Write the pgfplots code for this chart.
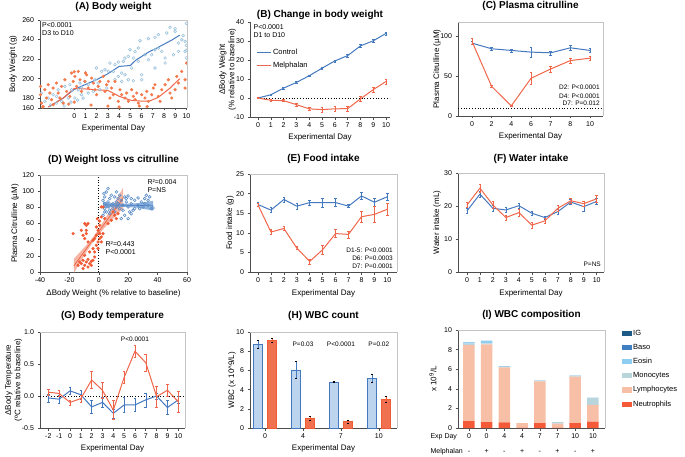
\documentclass[border=0pt]{standalone}
\usepackage{fontspec}
\setmainfont{Liberation Sans}
\usepackage{pgfplots}
\pgfplotsset{compat=1.18}

\definecolor{cblue}{HTML}{4479C0}
\definecolor{corange}{HTML}{F0664A}
\definecolor{sblue}{HTML}{9DC3DC}
\definecolor{sorange}{HTML}{F47B4E}
\definecolor{dblue}{HTML}{5A8DC8}
\definecolor{dorange}{HTML}{EF5B35}
\definecolor{bandor}{HTML}{F39680}
\definecolor{bandbl}{HTML}{5F93CF}
\definecolor{hbarblue}{HTML}{BCD4EE}
\definecolor{hbarorange}{HTML}{F07150}
\definecolor{cIG}{HTML}{1E5A86}
\definecolor{cBaso}{HTML}{3F7FC2}
\definecolor{cEosin}{HTML}{8FCDF1}
\definecolor{cMono}{HTML}{B9D5DC}
\definecolor{cLymph}{HTML}{F6BFA6}
\definecolor{cNeut}{HTML}{F45A37}
\definecolor{axgray}{HTML}{4D4D4D}
\definecolor{frgray}{HTML}{C4C4C4}

\tikzset{annot/.style={font=\fontsize{6.5}{8}\selectfont}}
\pgfplotsset{
  prism/.style={
    scale only axis, anchor=south west,
    axis x line*=bottom, axis y line*=left,
    axis line style={-, draw=axgray, line width=0.6pt},
    tick align=outside, major tick length=2.5pt,
    tick style={draw=axgray, line width=0.6pt},
    tick label style={font=\fontsize{7}{8}\selectfont},
    label style={font=\fontsize{8}{9.5}\selectfont},
    title style={font=\bfseries\fontsize{10}{12}\selectfont, anchor=center, yshift=-6pt},
    xlabel style={anchor=center},
    ylabel style={anchor=center, align=center},
    /pgf/number format/assume math mode=true,
  },
  framed/.style={prism,
    after end axis/.code={\draw[frgray, line width=0.6pt] (rel axis cs:0,1) -- (rel axis cs:1,1) -- (rel axis cs:1,0);}},
  errb/.style={/pgfplots/error bars/y dir=both, /pgfplots/error bars/y explicit,
    /pgfplots/error bars/error bar style={line width=0.5pt},
    /pgfplots/error bars/error mark options={rotate=90, mark size=1.3pt, line width=0.5pt}},
  ln/.style={line width=1pt, mark=none},
}

\begin{document}
\begin{tikzpicture}
\useasboundingbox (0pt,0pt) rectangle (685pt,456pt);

% (A) body weight
\begin{axis}[framed, at={(40pt,348pt)}, width=147pt, height=88pt,
  xmin=-3.05, xmax=10.05, ymin=170, ymax=260,
  xtick={0,...,10}, ytick={170,180,200,220,240,260}, yticklabels={160,180,200,220,240,260},
  title={(A) Body weight}, xlabel={Experimental Day}, ylabel={Body Weight (g)},
  title style={at={(axis description cs:0.5,1.148)}},
  xlabel style={at={(axis description cs:0.5,-0.227)}},
  ylabel style={at={(axis description cs:-0.184,0.5)}}]
\addplot[only marks, mark=o, mark size=1.4pt, sblue, mark options={line width=0.6pt}] coordinates {
(8.54,252.5)(8.99,251.1)(8.99,248.4)(8.24,246.7)(7.5,245)(7.2,242.2)(6.61,240.9)(5.86,238.8)
(5.71,231.3)(5.42,227.9)(4.97,229.6)(4.82,222.8)(5.27,221.1)(5.71,217.7)(4.38,217.7)(3.93,217)
(3.18,216)(3.04,207.4)(3.48,207.4)(4.23,205.7)(4.52,204)(3.93,202.3)(3.63,198.9)(4.82,198.9)
(5.27,197.9)(6.01,204)(6.01,198.9)(6.61,219.4)(6.9,224.5)(7.2,210.9)(8.1,221.1)(8.1,216)
(9.29,236.4)(9.58,239.8)(9.88,238.1)(9.88,227.9)(10,221.1)(9.29,227.9)(8.84,224.5)(7.8,227.9)
(7.5,231.3)(7.2,229.6)(6.31,224.5)(4.52,221.1)(2.74,209.1)(2.44,207.4)(1.99,210.9)(1.85,198.9)
(2.14,195.5)(1.25,193.8)(0.65,190.4)(0.36,188.7)(-0.24,188.7)(-0.39,193.8)(-0.83,192.1)(-1.43,188.7)
(-1.58,181.9)(-1.88,183.6)(-2.32,180.2)(-2.62,176.8)(-2.92,185.3)(-1.13,176.8)(-0.54,180.2)(0.06,180.2)
(0.65,183.6)(1.25,185.3)(1.7,187)(2.29,188.7)(2.89,190.4)(0.95,197.2)(0.51,195.5)(4.23,197.2)
(5.12,210.9)(3.63,214.3)(-2.1,173)(-1.6,175)(-0.9,172)(-0.3,176)(0.3,178)(0.8,180)
(10,256.5)(9.7,244)(10,234)(10,229)};
\addplot[only marks, mark=*, mark size=1.4pt, sorange, mark options={draw=sorange}] coordinates {
(-3,192.1)(-3,183.6)(-2.92,175)(-2.77,171.6)(-2.62,188.7)(-2.47,180.2)(-2.32,193.8)(-2.17,185.3)
(-2.02,178.5)(-1.88,190.4)(-1.88,173.3)(-1.58,195.5)(-1.43,185.3)(-1.28,180.2)(-1.13,192.1)(-0.98,175)
(-0.83,198.9)(-0.68,187)(-0.39,181.9)(-0.24,205.7)(-0.09,197.2)(0.06,202.3)(0.21,192.1)(0.36,207.4)
(0.51,198.9)(0.65,187)(0.95,197.2)(1.1,204)(1.25,190.4)(1.55,200.6)(1.7,195.5)(1.85,188.7)
(1.99,183.6)(2.14,192.1)(2.29,197.2)(2.59,202.3)(2.74,187)(2.89,193.8)(3.04,197.2)(3.18,180.2)
(3.33,190.4)(3.48,183.6)(3.63,197.2)(3.93,176.8)(4.08,188.7)(4.23,183.6)(4.52,180.2)(4.67,185.3)
(4.82,176.8)(5.12,188.7)(5.27,181.9)(5.42,178.5)(5.57,185.3)(5.71,175)(6.01,183.6)(6.31,180.2)
(6.46,187)(6.61,176.8)(6.9,183.6)(7.05,190.4)(7.2,193.8)(7.5,181.9)(7.65,176.8)(7.8,188.7)
(8.1,193.8)(8.39,198.9)(8.54,185.3)(8.69,180.2)(8.99,188.7)(9.14,202.3)(9.29,195.5)(9.58,207.4)
(9.88,190.4)(9.88,198.9)(10,216)(3,172)(4,171)(5.8,172)(6.5,171.5)(-2.8,171)(1.5,173)
(-0.5,174)(0,176)(0,207)(1,206)};
\addplot[ln, cblue] coordinates {(-2.3,171)(-1,180)(0,189)(1,194)(2,199)(3,205)(4,212.5)(5,213.5)(5.5,219)(6.6,227)(7.8,234)(8.7,239.5)(9.4,244.5)};
\addplot[ln, corange] coordinates {(-2.3,171)(-1,180)(0,190)(1,189.5)(2,188.5)(3,188)(4,182)(5,178)(6,177)(6.7,177)(7.5,181)(8.5,190)(9.4,200)};
\node[anchor=north west, align=left, font=\fontsize{7}{8.5}\selectfont, inner sep=2pt] at (rel axis cs:0,1) {P<0.0001\\D3 to D10};
\end{axis}

% (B) change in body weight
\begin{axis}[prism, at={(250pt,339pt)}, width=140pt, height=95pt,
  xmin=-0.625, xmax=10.31, ymin=-10, ymax=40,
  xtick={0,...,10}, ytick={-10,0,10,20,30,40}, yticklabels={-10,0,10,20,30,40},
  title={(B) Change in body weight}, xlabel={Experimental Day},
  ylabel={ΔBody Weight\\(\% relative to baseline)},
  title style={at={(axis description cs:0.5,1.074)}},
  xlabel style={at={(axis description cs:0.5,-0.21)}},
  ylabel style={at={(axis description cs:-0.16,0.5)}},
  legend style={at={(axis description cs:0.02,0.76)}, anchor=north west, draw=none, fill=none,
    font=\fontsize{7.5}{9}\selectfont, row sep=2pt},
  legend cell align=left,
  legend image code/.code={\draw[#1] (0pt,0pt) -- (14pt,0pt);}]
\addplot[black, dotted, line width=0.8pt, forget plot] coordinates {(0,0)(10.31,0)};
\addplot[ln, cblue, errb] coordinates {(0,0)+-(0,0.2) (1,1.7)+-(0,0.4) (2,5.2)+-(0,0.4) (3,8.2)+-(0,0.4) (4,11.7)+-(0,0.5) (5,15.7)+-(0,0.5) (6,19.5)+-(0,0.6) (7,22.3)+-(0,0.6) (8,27.4)+-(0,0.7) (9,30.1)+-(0,0.7) (10,34)+-(0,0.8)};
\addlegendentry{Control}
\addplot[ln, corange, errb] coordinates {(0,0)+-(0,0.2) (1,-1.2)+-(0,0.4) (2,-1.4)+-(0,0.5) (3,-3.5)+-(0,0.6) (4,-5.7)+-(0,0.8) (5,-6.1)+-(0,1.2) (6,-5.7)+-(0,1.3) (7,-5.6)+-(0,1.3) (8,-0.5)+-(0,1.3) (9,4.4)+-(0,1.3) (10,8.7)+-(0,1.4)};
\addlegendentry{Melphalan}
\node[anchor=north west, align=left, font=\fontsize{7}{8.5}\selectfont, inner sep=2pt] at (rel axis cs:0.01,1) {P<0.0001\\D1 to D10};
\end{axis}

% (C) plasma citrulline
\begin{axis}[framed, at={(458pt,340pt)}, width=145pt, height=94pt,
  xmin=-0.71, xmax=6.66, ymin=0, ymax=118,
  xtick={0,...,6}, xticklabels={0,2,4,6,7,8,10}, ytick={0,50,100},
  title={(C) Plasma citrulline}, xlabel={Experimental Day}, ylabel={Plasma Citrulline (µM)},
  title style={at={(axis description cs:0.5,1.17)}},
  xlabel style={at={(axis description cs:0.5,-0.213)}},
  ylabel style={at={(axis description cs:-0.145,0.5)}}]
\addplot[black, dotted, line width=0.8pt] coordinates {(-0.71,10)(6.66,10)};
\addplot[ln, cblue, errb] coordinates {(0,91.5)+-(0,2) (1,84.4)+-(0,2) (2,82.3)+-(0,2) (3,80.2)+-(0,6) (4,79.3)+-(0,2.5) (5,85.6)+-(0,3) (6,82.3)+-(0,2.5)};
\addplot[ln, corange, errb] coordinates {(0,93.7)+-(0,4) (1,37.1)+-(0,1) (2,12.7)+-(0,1) (3,47.3)+-(0,7) (4,59)+-(0,3.5) (5,69.6)+-(0,3.5) (6,72.6)+-(0,2)};
\node[anchor=east, annot, inner sep=0pt] at (axis cs:6.5,35.6) {D2: P<0.0001};
\node[anchor=east, annot, inner sep=0pt] at (axis cs:6.5,25.4) {D4: P<0.0001};
\node[anchor=east, annot, inner sep=0pt] at (axis cs:6.5,16.5) {D7: P=0.012};
\end{axis}

% (D) weight loss vs citrulline
\begin{axis}[framed, at={(40pt,184pt)}, width=147pt, height=97pt,
  xmin=-40, xmax=60, ymin=0, ymax=120,
  xtick={-40,-20,0,20,40,60}, xticklabels={-40,-20,0,20,40,60}, ytick={0,20,...,120},
  title={(D) Weight loss vs citrulline}, xlabel={ΔBody Weight (\% relative to baseline)},
  ylabel={Plasma Citrulline (µM)},
  title style={at={(axis description cs:0.5,1.155)}},
  xlabel style={at={(axis description cs:0.5,-0.216)}},
  ylabel style={at={(axis description cs:-0.17,0.5)}}]
\addplot[black, dotted, line width=0.7pt] coordinates {(0,0)(0,120)};
\addplot[only marks, mark=o, mark size=1.4pt, dblue, mark options={line width=0.6pt}] coordinates {
(6.27,103.2)(5.13,99)(4,92.9)(2.87,88.7)(4,84.6)(5.13,82.6)(6.27,86.7)(7.4,90.8)(8.54,94.9)
(10.8,92.9)(13.1,90.8)(14.2,94.9)(15.3,88.7)(17.6,92.9)(19.9,94.1)(22.1,90.8)(24.4,88.7)(26.7,91.6)
(28.9,86.7)(31.2,84.6)(33.5,82.6)(35.8,78.4)(36.9,79.2)(34.6,92.9)(32.3,94.9)(26.7,82.6)(24.4,78.4)
(22.1,84.6)(19.9,80.5)(18.7,86.7)(16.5,82.6)(13.1,84.6)(11.9,80.5)(9.67,78.4)(7.4,76.4)(5.13,74.3)
(4,78.4)(7.4,72.2)(2.87,70.2)(15.3,66.1)(10.8,74.3)(17.6,70.2)(21,74.3)(23.3,76.4)(27.8,78.4)
(30.1,80.5)(9.67,84.6)(14.2,78.4)(16.5,76.4)(8.54,82.6)(6.27,80.5)(4,74.3)(31.2,90.8)(33.5,88.7)
(11.9,86.7)(18.7,90.8)(20,66)(22,72)(3.5,97)(12,99)};
\addplot[only marks, mark=*, mark size=1.4pt, dorange, mark options={draw=dorange}] coordinates {
(9.67,74.3)(10.8,70.2)(13.1,72.2)(11.9,66.1)(8.54,64)(6.27,59.9)(4,66.1)(1.73,68.1)(2.87,80.5)
(1.73,80.5)(0.6,57.8)(-1.67,55.7)(-0.54,51.6)(0.6,47.5)(-1.67,45.4)(-2.8,41.3)(-3.94,39.2)(-0.54,37.2)
(-1.67,33)(1.73,37.2)(-3.94,28.9)(-2.8,24.8)(-6.2,24.8)(-7.34,37.2)(-9.6,41.3)(-10.7,45.4)(-8.5,47.5)
(-8.5,57.8)(-7.34,59.9)(-9.6,59.9)(-8.5,51.6)(-11.9,51.6)(-17.5,47.5)(-9.6,20.7)(-10.7,14.5)(-8.5,12.4)
(-7.34,15.7)(-6.2,10.4)(-5.07,13.3)(-11.9,10.4)(-9.6,8.3)(-7.34,6.2)(-5.07,8.3)(-3.94,14.5)(-2.8,18.6)
(-13,12.4)(-14.1,8.3)(-10.7,4.2)(-0.54,28.9)(0.6,41.3)(1.73,43.4)(2.87,47.5)(-1,66)(0.5,63)};
\addplot[fill=bandor, fill opacity=0.7, draw=none] coordinates {(-17,16.4)(-12,26.2)(-8,34.2)(-4,43.1)(-2,48.1)(0,53.5)(4,65.2)(8,77.3)(12,89.5)(16.5,104)(16.5,78.5)(12,70.5)(8,62.7)(4,54.8)(0,46.5)(-2,41.9)(-4,36.9)(-8,25.8)(-12,13.8)(-17,-1.4)} -- cycle;
\addplot[dorange, line width=0.6pt] coordinates {(-17,7.5)(16.5,91.25)};
\addplot[fill=bandbl, fill opacity=0.7, draw=none] coordinates {(3,87)(10,85.2)(18,84.5)(26,85.1)(37,88)(37,76)(26,79.5)(18,80.5)(10,80.2)(3,79)} -- cycle;
\addplot[cblue, line width=0.6pt] coordinates {(3,83)(37,82)};
\node[anchor=west, align=left, font=\fontsize{7}{8.5}\selectfont, inner sep=0pt] at (axis cs:33,106) {R²=0.004\\P=NS};
\node[anchor=west, align=left, font=\fontsize{7}{8.5}\selectfont, inner sep=0pt] at (axis cs:4.5,29.5) {R²=0.443\\P<0.0001};
\end{axis}

% (E) food intake
\begin{axis}[framed, at={(250pt,184pt)}, width=147pt, height=98pt,
  xmin=-0.62, xmax=10.75, ymin=0, ymax=25,
  xtick={0,...,10}, ytick={0,5,...,25},
  title={(E) Food intake}, xlabel={Experimental Day}, ylabel={Food intake (g)},
  title style={at={(axis description cs:0.5,1.153)}},
  xlabel style={at={(axis description cs:0.5,-0.214)}},
  ylabel style={at={(axis description cs:-0.136,0.5)}}]
\addplot[ln, cblue, errb] coordinates {(0,17.2)+-(0,0.5) (1,15.8)+-(0,0.6) (2,18.5)+-(0,0.6) (3,16.8)+-(0,0.8) (4,17.7)+-(0,0.7) (5,17.7)+-(0,1.1) (6,17.7)+-(0,1) (7,16.8)+-(0,0.4) (8,19.4)+-(0,0.9) (9,17.8)+-(0,0.9) (10,19.2)+-(0,0.9)};
\addplot[ln, corange, errb] coordinates {(0,17.1)+-(0,0.4) (1,10.2)+-(0,0.6) (2,11.1)+-(0,0.5) (3,6.1)+-(0,0.4) (4,2.7)+-(0,0.6) (5,5.7)+-(0,1.1) (6,9.8)+-(0,1) (7,9.6)+-(0,0.9) (8,14.1)+-(0,1.3) (9,14.7)+-(0,2.1) (10,16)+-(0,1.5)};
\node[anchor=east, annot, inner sep=0pt] at (axis cs:10.44,5.6) {D1-5: P<0.0001};
\node[anchor=east, annot, inner sep=0pt] at (axis cs:10.44,3.57) {D6: P=0.0003};
\node[anchor=east, annot, inner sep=0pt] at (axis cs:10.44,1.53) {D7: P=0.0001};
\end{axis}

% (F) water intake
\begin{axis}[framed, at={(458pt,184pt)}, width=146pt, height=99pt,
  xmin=-0.69, xmax=10.56, ymin=0, ymax=30,
  xtick={0,...,10}, ytick={0,10,20,30},
  title={(F) Water intake}, xlabel={Experimental Day}, ylabel={Water intake (mL)},
  title style={at={(axis description cs:0.5,1.141)}},
  xlabel style={at={(axis description cs:0.5,-0.212)}},
  ylabel style={at={(axis description cs:-0.144,0.5)}}]
\addplot[ln, cblue, errb] coordinates {(0,18.5)+-(0,0.8) (1,23.6)+-(0,1) (2,19.3)+-(0,1) (3,18.8)+-(0,0.8) (4,20.1)+-(0,0.8) (5,17.8)+-(0,0.6) (6,16.5)+-(0,0.5) (7,18.3)+-(0,0.7) (8,21.2)+-(0,0.8) (9,19.8)+-(0,1.5) (10,21.4)+-(0,0.9)};
\addplot[ln, corange, errb] coordinates {(0,20.3)+-(0,0.8) (1,25.4)+-(0,1.2) (2,20.3)+-(0,1) (3,16.5)+-(0,0.8) (4,18)+-(0,1) (5,14.2)+-(0,1) (6,15.5)+-(0,0.8) (7,19.3)+-(0,1) (8,21.6)+-(0,0.7) (9,20.7)+-(0,0.8) (10,22.2)+-(0,1.2)};
\node[anchor=east, annot, inner sep=0pt] at (axis cs:10.33,2.4) {P=NS};
\end{axis}

% (G) body temperature
\begin{axis}[framed, at={(40pt,28pt)}, width=145pt, height=96pt,
  xmin=-2.77, xmax=10.62, ymin=-0.5, ymax=1.0,
  xtick={-2,...,10}, xticklabels={-2,-1,0,1,2,3,4,5,6,7,8,9,10},
  ytick={-0.5,0,0.5,1}, yticklabels={-0.5,0.0,0.5,1.0},
  title={(G) Body temperature}, xlabel={Experimental Day},
  ylabel={ΔBody Temperature\\(ºC relative to baseline)},
  title style={at={(axis description cs:0.5,1.167)}},
  xlabel style={at={(axis description cs:0.5,-0.208)}},
  ylabel style={at={(axis description cs:-0.183,0.5)}}]
\addplot[black, dotted, line width=0.8pt] coordinates {(-2.77,0)(10.62,0)};
\addplot[ln, cblue, errb] coordinates {(-2,-0.03)+-(0,0.06) (-1,-0.05)+-(0,0.06) (0,0.08)+-(0,0.06) (1,0.02)+-(0,0.07) (2,-0.17)+-(0,0.1) (3,-0.1)+-(0,0.08) (4,-0.27)+-(0,0.07) (5,-0.14)+-(0,0.12) (6,-0.14)+-(0,0.1) (7,-0.06)+-(0,0.11) (8,0)+-(0,0.05) (9,-0.18)+-(0,0.11) (10,-0.06)+-(0,0.05)};
\addplot[ln, corange, errb] coordinates {(-2,0.06)+-(0,0.05) (-1,0.04)+-(0,0.05) (0,-0.1)+-(0,0.04) (1,-0.04)+-(0,0.05) (2,0.25)+-(0,0.13) (3,0.09)+-(0,0.12) (4,-0.22)+-(0,0.15) (5,0.29)+-(0,0.09) (6,0.7)+-(0,0.09) (7,0.52)+-(0,0.14) (8,-0.01)+-(0,0.16) (9,0.09)+-(0,0.1) (10,-0.09)+-(0,0.16)};
\node[annot] at (axis cs:6,0.89) {P<0.0001};
\end{axis}

% (H) WBC count
\begin{axis}[framed, at={(250pt,28pt)}, width=147pt, height=96pt,
  ybar, bar width=9pt,
  xmin=-0.4, xmax=3.48, ymin=0, ymax=10,
  xtick={0,1,2,3}, xticklabels={0,4,7,10}, ytick={0,2,...,10},
  title={(H) WBC count}, xlabel={Experimental Day}, ylabel={WBC (x 10\textasciicircum 9/L)},
  title style={at={(axis description cs:0.5,1.167)}},
  xlabel style={at={(axis description cs:0.5,-0.208)}},
  ylabel style={at={(axis description cs:-0.122,0.5)}}]
\addplot[bar shift=-7pt, fill=hbarblue, draw=cblue, line width=0.7pt, errb] coordinates {(0,8.75)+-(0,0.4) (1,6.05)+-(0,0.9) (2,4.8)+-(0,0.05) (3,5.2)+-(0,0.4)};
\addplot[bar shift=7pt, fill=hbarorange, draw=dorange, line width=0.7pt, errb] coordinates {(0,9.15)+-(0,0.25) (1,1.0)+-(0,0.2) (2,0.65)+-(0,0.12) (3,3.0)+-(0,0.3)};
\node[annot] at (axis cs:1,8.7) {P=0.03};
\node[annot] at (axis cs:2,8.7) {P<0.0001};
\node[annot] at (axis cs:3,8.7) {P=0.02};
\end{axis}

% (I) WBC composition
\begin{axis}[framed, name=I, at={(458pt,28pt)}, width=147pt, height=98pt,
  ybar stacked, bar width=11.5pt,
  xmin=-0.62, xmax=7.68, ymin=0, ymax=10,
  xtick={0,...,7}, xticklabels={{0\\-},{0\\+},{4\\-},{4\\+},{7\\-},{7\\+},{10\\-},{10\\+}},
  x tick label style={font=\fontsize{7}{15}\selectfont, align=center},
  ytick={0,2,...,10},
  title={(I) WBC composition}, ylabel={x 10\textsuperscript{9}/L},
  title style={at={(axis description cs:0.5,1.153)}},
  ylabel style={at={(axis description cs:-0.17,0.5)}},
  legend style={at={(axis description cs:1,1.03)}, xshift=14pt, anchor=north west, draw=none, fill=none,
    font=\fontsize{7.5}{9}\selectfont, row sep=5.3pt, nodes={inner sep=1pt}},
  legend cell align=left, reverse legend,
  legend image code/.code={\fill[#1] (0pt,-2.6pt) rectangle (10pt,2.6pt);}]
\addplot[fill=cNeut, draw=none] coordinates {(0,0.7)(1,0.61)(2,0.58)(3,0.02)(4,0.5)(5,0.02)(6,0.5)(7,0.65)};
\addlegendentry{Neutrophils}
\addplot[fill=cLymph, draw=none] coordinates {(0,7.75)(1,7.93)(2,5.6)(3,0.47)(4,4.25)(5,0.42)(6,4.75)(7,1.72)};
\addlegendentry{Lymphocytes}
\addplot[fill=cMono, draw=none] coordinates {(0,0.15)(1,0.1)(2,0.07)(3,0.02)(4,0.08)(5,0.15)(6,0.07)(7,0.68)};
\addlegendentry{Monocytes}
\addplot[fill=cEosin, draw=none] coordinates {(0,0.15)(1,0.24)(2,0.05)(3,0)(4,0.02)(5,0.01)(6,0.02)(7,0.02)};
\addlegendentry{Eosin}
\addplot[fill=cBaso, draw=none] coordinates {(0,0.02)(1,0.02)(2,0.01)(3,0)(4,0.01)(5,0)(6,0.01)(7,0.01)};
\addlegendentry{Baso}
\addplot[fill=cIG, draw=none] coordinates {(0,0)(1,0)(2,0)(3,0)(4,0)(5,0)(6,0)(7,0)};
\addlegendentry{IG}
\end{axis}
\node[anchor=west, font=\fontsize{7}{8}\selectfont] at ([xshift=-31pt, yshift=-9pt]I.south west) {Exp Day};
\node[anchor=west, font=\fontsize{7}{8}\selectfont] at ([xshift=-31pt, yshift=-24pt]I.south west) {Melphalan};
\end{tikzpicture}
\end{document}
